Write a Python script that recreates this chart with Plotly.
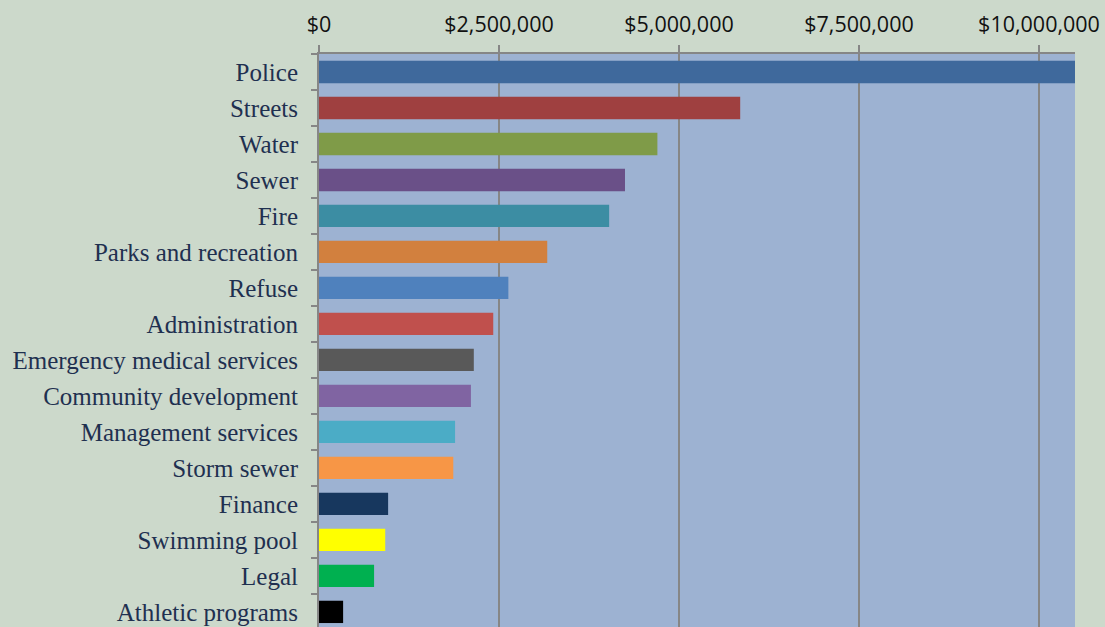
import plotly.graph_objects as go

categories = ["Police", "Streets", "Water", "Sewer", "Fire", "Parks and recreation",
              "Refuse", "Administration", "Emergency medical services",
              "Community development", "Management services", "Storm sewer",
              "Finance", "Swimming pool", "Legal", "Athletic programs"]
values = [10500000, 5850000, 4700000, 4250000, 4030000, 3170000,
          2630000, 2420000, 2150000, 2110000, 1890000, 1865000,
          960000, 920000, 765000, 335000]
colors = ["#3F699C", "#9F4040", "#7F9B48", "#6A5088", "#3C8DA3", "#D2803E",
          "#4F81BD", "#C0504D", "#595959", "#8064A2", "#4BACC6", "#F79646",
          "#17375E", "#FFFF00", "#00B050", "#000000"]
tick_vals = [0, 2500000, 5000000, 7500000, 10000000]
tick_text = ["$0", "$2,500,000", "$5,000,000", "$7,500,000", "$10,000,000"]

fig = go.Figure(go.Bar(
    x=values, y=categories, orientation="h",
    marker=dict(color=colors, line=dict(width=0)),
    width=0.62,
))

fig.update_layout(
    width=1105, height=627,
    margin=dict(l=319, r=30, t=54, b=0),
    paper_bgcolor="#CCD9CB",
    plot_bgcolor="#9DB2D2",
    showlegend=False,
    xaxis=dict(
        side="top", range=[0, 10500000],
        tickvals=tick_vals, ticktext=tick_text,
        showgrid=True, gridcolor="#868686", gridwidth=1.5,
        ticks="outside", ticklen=7, tickcolor="#868686", tickwidth=1.5,
        showline=True, linecolor="#868686", linewidth=1.5,
        zeroline=False,
        tickfont=dict(family="Open Sans", size=21.5, color="#111111"),
        ticklabelstandoff=5,
    ),
    yaxis=dict(
        type="category",
        categoryorder="array", categoryarray=categories,
        range=[15.42, -0.5],
        ticks="outside", tickson="boundaries", ticklen=6, tickcolor="#868686", tickwidth=1.5,
        showline=True, linecolor="#868686", linewidth=2,
        showgrid=False,
        tickfont=dict(family="Liberation Serif", size=25, color="#1F3050"),
        ticklabelstandoff=14,
    ),
)

fig.write_html("out.html", config={"displayModeBar": False},
               post_script="document.body.style.margin='0';document.body.style.overflow='hidden';")
